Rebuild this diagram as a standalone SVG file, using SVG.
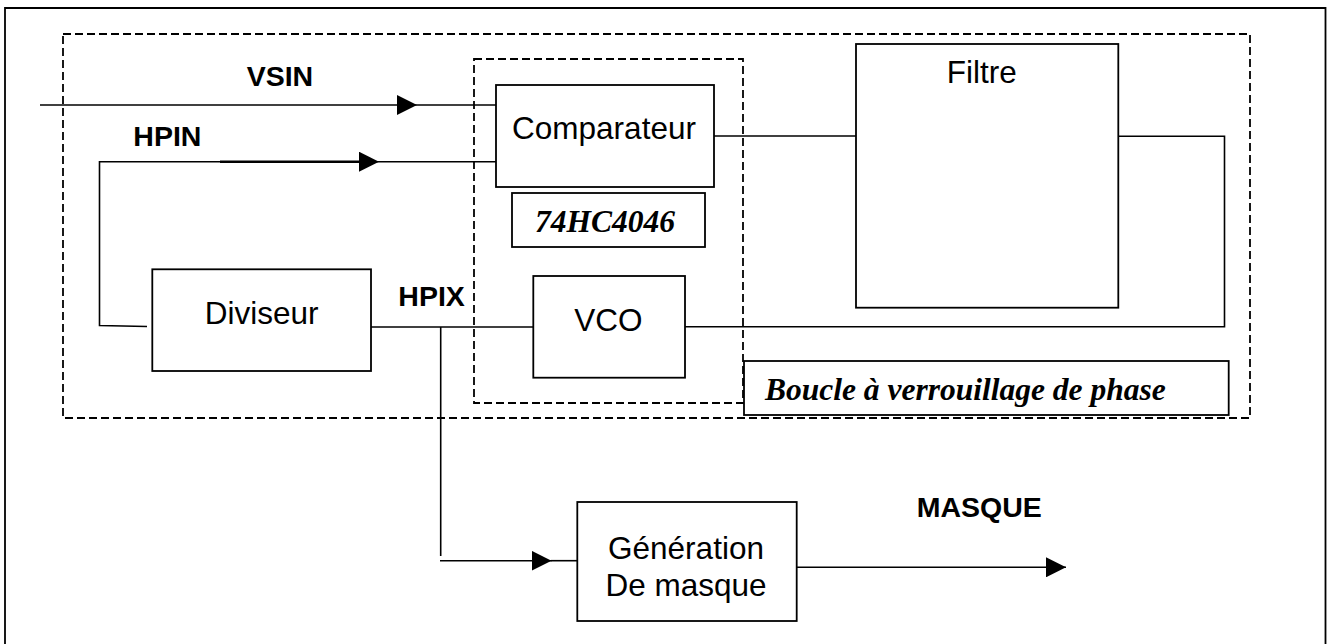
<svg xmlns="http://www.w3.org/2000/svg" width="1327" height="644" viewBox="0 0 1327 644">
<style>
.box{fill:#fff;stroke:#000;stroke-width:1.8}
.dash{fill:none;stroke:#000;stroke-width:1.8;stroke-dasharray:8 4}
.ln{fill:none;stroke:#000;stroke-width:1.6}
.t{font-family:"Liberation Sans",Arial,sans-serif;font-size:31.5px;fill:#000;text-anchor:middle}
.lab{font-family:"Liberation Sans",Arial,sans-serif;font-size:28.5px;font-weight:bold;fill:#000}
.it{font-family:"Liberation Serif","Times New Roman",serif;font-size:31.5px;font-weight:bold;font-style:italic;fill:#000}
</style>
<defs>
<marker id="arr" markerWidth="20" markerHeight="20" refX="20" refY="10" orient="auto" markerUnits="userSpaceOnUse">
<path d="M0,0 L20,10 L0,20 Z" fill="#000"/>
</marker>
</defs>
<rect width="1327" height="644" fill="#fff"/>
<g id="frame">
<path d="M5,700 L5,8 L1325.5,8 L1325.5,700" fill="none" stroke="#000" stroke-width="1.8"/>
</g>
<g id="pll-group">
<rect class="dash" x="63" y="34" width="1187" height="384"/>
</g>
<g id="chip-group">
<rect class="dash" x="474" y="59" width="269" height="344"/>
</g>
<g id="connectors">
<path class="ln" d="M40,105 L417,105" marker-end="url(#arr)"/>
<path class="ln" d="M417,105 L496,105"/>
<path class="ln" d="M147,326.5 L99.5,325.5 L99.5,161.7 L379,161.7" marker-end="url(#arr)"/>
<path d="M220,161.7 L370,161.7" stroke="#000" stroke-width="2.6"/>
<path class="ln" d="M379,161.7 L496,161.7"/>
<path class="ln" d="M712,136 L862,136"/>
<path class="ln" d="M1118,136.3 L1224.5,136.3 L1224.5,326.7 L685,326.7"/>
<path class="ln" d="M359,327 L533,327"/>
<path class="ln" d="M440.7,327 L440.7,556"/>
<path class="ln" d="M440,560.7 L551.5,560.7" marker-end="url(#arr)"/>
<path class="ln" d="M551,560.7 L577,560.7"/>
<path class="ln" d="M797,567.3 L1066,567.3" marker-end="url(#arr)"/>
</g>
<g id="comparateur">
<rect class="box" x="496" y="85" width="218" height="102"/>
<text class="t" x="604" y="139">Comparateur</text>
</g>
<g id="ic-label">
<rect class="box" x="512" y="193" width="193" height="54"/>
<text class="it" x="535" y="232">74HC4046</text>
</g>
<g id="vco">
<rect class="box" x="533.3" y="276" width="151.7" height="101.7"/>
<text class="t" x="608.5" y="330.7">VCO</text>
</g>
<g id="filtre">
<rect class="box" x="856" y="44" width="262.3" height="263.7"/>
<text class="t" x="981.7" y="83.3">Filtre</text>
</g>
<g id="diviseur">
<rect class="box" x="152.3" y="269.3" width="218.7" height="101.7"/>
<text class="t" x="261.7" y="324">Diviseur</text>
</g>
<g id="boucle-label">
<rect class="box" x="744" y="361" width="484.7" height="54"/>
<text class="it" x="765" y="400">Boucle à verrouillage de phase</text>
</g>
<g id="generation">
<rect class="box" x="577.3" y="502" width="219.4" height="119"/>
<text class="t" x="686" y="559">Génération</text>
<text class="t" x="686" y="595.7">De masque</text>
</g>
<g id="labels">
<text class="lab" x="246.7" y="86">VSIN</text>
<text class="lab" x="133.3" y="146">HPIN</text>
<text class="lab" x="398.3" y="305.7">HPIX</text>
<text class="lab" x="916.7" y="517.3">MASQUE</text>
</g>
</svg>
